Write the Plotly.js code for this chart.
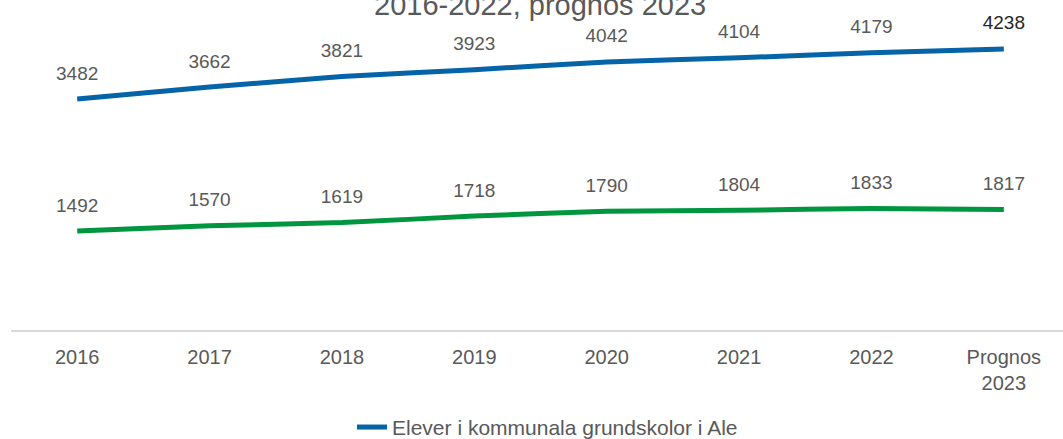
<!DOCTYPE html>
<html>
<head>
<meta charset="utf-8">
<script src="https://cdn.plot.ly/plotly-3.0.1.min.js"></script>
<style>
  html, body { margin: 0; padding: 0; background: #fff; }
  #plotArea { width: 1063px; height: 439px; }
</style>
</head>
<body>
<div id="plotArea"></div>
<script>
// years on the x axis, last one is the forecast
var years = ["2016", "2017", "2018", "2019", "2020", "2021", "2022", "Prognos<br>2023"];

// pupils, municipal schools in Ale
var blueValues = [3482, 3662, 3821, 3923, 4042, 4104, 4179, 4238];
// second series (legend entry is cut off in the picture)
var greenValues = [1492, 1570, 1619, 1718, 1790, 1804, 1833, 1817];

var blueName = "Elever i kommunala grundskolor i Ale";

var labelGray = "#595959";

var trace1 = {
    x: years,
    y: blueValues,
    name: blueName,
    type: "scatter",
    mode: "lines+markers+text",
    line: {color: "#0563a8", width: 5, shape: "spline", smoothing: 0.5},
    marker: {size: 22, color: "rgba(0,0,0,0)"},
    text: blueValues.map(String),
    textposition: "top center",
    textfont: {family: "Arial, Liberation Sans, sans-serif", size: 19,
               color: blueValues.map(function (v, i) { return i == blueValues.length - 1 ? "#262626" : labelGray; })},
    cliponaxis: false,
    hoverinfo: "x+y"
};

var trace2 = {
    x: years,
    y: greenValues,
    name: "Serie 2",
    type: "scatter",
    mode: "lines+markers+text",
    line: {color: "#00963f", width: 5, shape: "spline", smoothing: 0.5},
    marker: {size: 22, color: "rgba(0,0,0,0)"},
    text: greenValues.map(String),
    textposition: "top center",
    textfont: {family: "Arial, Liberation Sans, sans-serif", size: 19, color: labelGray},
    cliponaxis: false,
    showlegend: false,
    hoverinfo: "x+y"
};

var layout = {
    width: 1063,
    height: 439,
    margin: {l: 11, r: 0, t: 0, b: 109, autoexpand: false},
    paper_bgcolor: "#fff",
    plot_bgcolor: "#fff",
    font: {family: "Arial, Liberation Sans, sans-serif", color: labelGray},
    xaxis: {
        type: "category",
        range: [-0.5, 7.447],
        showgrid: false,
        zeroline: false,
        showline: true,
        linecolor: "#d9d9d9",
        linewidth: 1.5,
        ticks: "",
        ticklabelstandoff: 8,
        tickfont: {size: 20, color: labelGray},
        automargin: false,
        fixedrange: true
    },
    yaxis: {
        range: [0, 4975],
        showgrid: false,
        zeroline: false,
        showticklabels: false,
        automargin: false,
        fixedrange: true
    },
    showlegend: true,
    legend: {
        orientation: "h",
        x: 0.51,
        xanchor: "center",
        y: -0.233,
        yanchor: "top",
        font: {size: 21, color: labelGray}
    },
    annotations: [{
        text: "2016-2022, prognos 2023",
        xref: "paper", yref: "paper",
        x: 0.503, y: 0.985,
        xanchor: "center", yanchor: "middle",
        showarrow: false,
        font: {size: 29, color: labelGray}
    }]
};

Plotly.newPlot("plotArea", [trace1, trace2], layout, {displayModeBar: false, staticPlot: true});
</script>
</body>
</html>
